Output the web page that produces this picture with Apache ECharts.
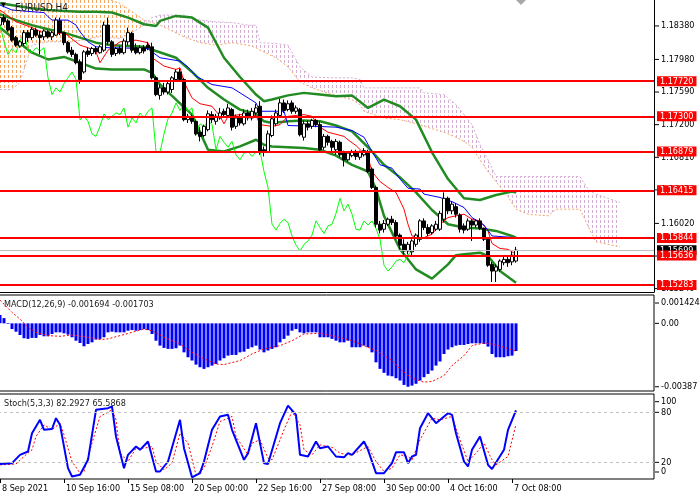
<!DOCTYPE html>
<html>
<head>
<meta charset="utf-8">
<title>EURUSD,H4</title>
<script src="https://cdn.jsdelivr.net/npm/echarts/dist/echarts.min.js"></script>
<style>
html, body { margin: 0; padding: 0; background: #fff; }
#chart { width: 700px; height: 500px; }
</style>
</head>
<body>
<div id="chart"></div>
<script>
var FONT = '"DejaVu Sans Condensed", "Liberation Sans", sans-serif';

// H4 bars, 8 Sep 00:00 .. 7 Oct 12:00 : [open, close, low, high]
var ohlc = [
  [1.1839,1.1848,1.1837,1.1851],[1.1848,1.1843,1.1839,1.1852],[1.1844,1.1833,1.1831,1.1846],[1.1836,1.1821,1.1819,1.1838],
  [1.1824,1.1815,1.1813,1.1826],[1.1814,1.1819,1.1812,1.1821],[1.1817,1.1830,1.1814,1.1833],[1.1830,1.1824,1.1819,1.1833],
  [1.1824,1.1834,1.1821,1.1837],[1.1833,1.1827,1.1825,1.1836],[1.1827,1.1824,1.1804,1.1832],[1.1825,1.1832,1.1821,1.1834],
  [1.1831,1.1825,1.1823,1.1833],[1.1825,1.1830,1.1821,1.1832],[1.1827,1.1845,1.1826,1.1848],[1.1844,1.1830,1.1827,1.1848],
  [1.1830,1.1818,1.1815,1.1831],[1.1818,1.1807,1.1805,1.1820],[1.1809,1.1804,1.1801,1.1813],[1.1804,1.1794,1.1792,1.1806],
  [1.1795,1.1774,1.1769,1.1798],[1.1783,1.1807,1.1781,1.1809],[1.1808,1.1804,1.1801,1.1812],[1.1805,1.1811,1.1802,1.1813],
  [1.1811,1.1807,1.1804,1.1814],[1.1806,1.1813,1.1805,1.1815],[1.1809,1.1839,1.1807,1.1843],[1.1839,1.1819,1.1815,1.1848],
  [1.1819,1.1804,1.1801,1.1821],[1.1805,1.1811,1.1802,1.1813],[1.1811,1.1806,1.1804,1.1814],[1.1806,1.1820,1.1804,1.1823],
  [1.1819,1.1830,1.1815,1.1836],[1.1829,1.1809,1.1806,1.1831],[1.1812,1.1806,1.1804,1.1817],[1.1806,1.1812,1.1804,1.1815],
  [1.1812,1.1808,1.1805,1.1815],[1.1815,1.1812,1.1809,1.1819],[1.1813,1.1776,1.1774,1.1818],[1.1776,1.1756,1.1754,1.1778],
  [1.1755,1.1764,1.1750,1.1768],[1.1764,1.1759,1.1756,1.1770],[1.1759,1.1769,1.1756,1.1771],[1.1762,1.1776,1.1758,1.1778],
  [1.1774,1.1783,1.1771,1.1786],[1.1783,1.1774,1.1771,1.1787],[1.1774,1.1726,1.1724,1.1776],[1.1726,1.1730,1.1722,1.1733],
  [1.1730,1.1724,1.1721,1.1732],[1.1724,1.1709,1.1707,1.1726],[1.1711,1.1706,1.1700,1.1717],[1.1707,1.1718,1.1705,1.1720],
  [1.1714,1.1733,1.1712,1.1737],[1.1732,1.1726,1.1722,1.1736],[1.1724,1.1730,1.1720,1.1733],[1.1728,1.1734,1.1726,1.1740],
  [1.1736,1.1732,1.1728,1.1739],[1.1731,1.1740,1.1728,1.1745],[1.1738,1.1717,1.1713,1.1740],[1.1718,1.1728,1.1715,1.1732],
  [1.1728,1.1722,1.1719,1.1733],[1.1721,1.1734,1.1719,1.1738],[1.1734,1.1728,1.1725,1.1738],[1.1728,1.1736,1.1725,1.1740],
  [1.1734,1.1740,1.1731,1.1745],[1.1742,1.1688,1.1684,1.1748],[1.1690,1.1687,1.1682,1.1694],[1.1688,1.1709,1.1686,1.1713],
  [1.1707,1.1727,1.1705,1.1731],[1.1721,1.1734,1.1718,1.1738],[1.1731,1.1746,1.1728,1.1751],[1.1746,1.1737,1.1734,1.1750],
  [1.1738,1.1745,1.1736,1.1749],[1.1746,1.1736,1.1733,1.1749],[1.1736,1.1740,1.1733,1.1743],[1.1738,1.1708,1.1706,1.1740],
  [1.1705,1.1721,1.1701,1.1725],[1.1721,1.1717,1.1713,1.1725],[1.1718,1.1725,1.1715,1.1727],[1.1725,1.1720,1.1717,1.1727],
  [1.1720,1.1690,1.1687,1.1724],[1.1693,1.1706,1.1690,1.1709],[1.1706,1.1699,1.1695,1.1708],[1.1700,1.1693,1.1688,1.1702],
  [1.1690,1.1700,1.1684,1.1703],[1.1699,1.1684,1.1681,1.1701],[1.1686,1.1678,1.1670,1.1689],[1.1678,1.1686,1.1676,1.1688],
  [1.1683,1.1688,1.1681,1.1690],[1.1688,1.1682,1.1678,1.1690],[1.1681,1.1687,1.1678,1.1689],[1.1684,1.1689,1.1682,1.1692],
  [1.1688,1.1664,1.1662,1.1690],[1.1667,1.1645,1.1643,1.1669],[1.1645,1.1601,1.1597,1.1647],[1.1601,1.1594,1.1590,1.1605],
  [1.1595,1.1602,1.1591,1.1606],[1.1601,1.1607,1.1599,1.1609],[1.1607,1.1603,1.1600,1.1611],[1.1603,1.1587,1.1583,1.1606],
  [1.1588,1.1576,1.1571,1.1590],[1.1577,1.1569,1.1565,1.1583],[1.1569,1.1577,1.1565,1.1580],[1.1568,1.1581,1.1564,1.1583],
  [1.1577,1.1588,1.1574,1.1590],[1.1583,1.1605,1.1580,1.1607],[1.1605,1.1597,1.1594,1.1608],[1.1597,1.1590,1.1587,1.1601],
  [1.1591,1.1599,1.1589,1.1601],[1.1595,1.1601,1.1593,1.1605],[1.1595,1.1614,1.1593,1.1617],[1.1607,1.1632,1.1603,1.1639],
  [1.1632,1.1617,1.1613,1.1634],[1.1617,1.1625,1.1613,1.1628],[1.1622,1.1613,1.1609,1.1626],[1.1612,1.1595,1.1591,1.1614],
  [1.1599,1.1594,1.1590,1.1602],[1.1595,1.1605,1.1593,1.1608],[1.1605,1.1600,1.1581,1.1607],[1.1600,1.1605,1.1597,1.1607],
  [1.1605,1.1596,1.1594,1.1608],[1.1596,1.1583,1.1581,1.1597],[1.1583,1.1552,1.1550,1.1585],[1.1553,1.1545,1.1532,1.1556],
  [1.1545,1.1550,1.1532,1.1553],[1.1547,1.1557,1.1544,1.1559],[1.1555,1.1559,1.1552,1.1562],[1.1559,1.1555,1.1550,1.1563],
  [1.1556,1.1564,1.1552,1.1568],[1.1557,1.1570,1.1555,1.1574]
];

// Bollinger bands [bar, price]
var bbUpper = [[0,1.1865],[4,1.1862],[8,1.1859],[12,1.1857],[16,1.1856],[20,1.1855],[24,1.1855],[28,1.1854],[32,1.1848],[36,1.1840],[39,1.1838],[40,1.1844],[44,1.1850],[48,1.1848],[52,1.1836],[56,1.1800],[60,1.1777],[64,1.1756],[66,1.1748],[68,1.1750],[72,1.1755],[76,1.1758],[80,1.1756],[84,1.1754],[88,1.1755],[92,1.1740],[96,1.1750],[100,1.1742],[104,1.1726],[108,1.1687],[112,1.1655],[116,1.1632],[120,1.1630],[124,1.1636],[128,1.1640],[129,1.1639]];
var bbMiddle = [[0,1.1852],[4,1.1845],[8,1.1839],[12,1.1834],[16,1.1830],[20,1.1824],[24,1.1818],[28,1.1815],[32,1.1814],[36,1.1813],[39,1.1808],[44,1.1800],[48,1.1783],[52,1.1764],[56,1.1750],[60,1.1738],[64,1.1733],[66,1.1724],[68,1.1722],[72,1.1724],[76,1.1725],[80,1.1724],[84,1.1719],[88,1.1712],[92,1.1693],[96,1.1672],[100,1.1657],[104,1.1639],[108,1.1618],[112,1.1601],[116,1.1597],[120,1.1596],[124,1.1593],[128,1.1587],[129,1.1585]];
var bbLower = [[0,1.1836],[4,1.1821],[8,1.1806],[12,1.1798],[16,1.1801],[20,1.1794],[24,1.1787],[28,1.1786],[32,1.1786],[36,1.1786],[38,1.1782],[40,1.1768],[44,1.1750],[48,1.1732],[52,1.1690],[56,1.1688],[60,1.1694],[64,1.1702],[66,1.1696],[68,1.1694],[72,1.1693],[76,1.1692],[80,1.1690],[84,1.1683],[88,1.1672],[92,1.1664],[94,1.1643],[96,1.1611],[100,1.1571],[104,1.1547],[108,1.1536],[112,1.1553],[114,1.1564],[116,1.1565],[120,1.1567],[122,1.1563],[125,1.1545],[129,1.1531]];

// Ichimoku
var tenkan = [[0,1.1857],[4,1.1843],[8,1.1836],[12,1.1827],[16,1.1830],[20,1.1815],[22,1.1812],[24,1.1807],[25,1.1794],[27,1.1809],[30,1.1819],[34,1.1821],[37,1.1818],[38,1.1800],[41,1.1790],[44,1.1786],[45,1.1788],[46,1.1771],[48,1.1752],[50,1.1745],[53,1.1742],[55,1.1730],[56,1.1721],[57,1.1730],[60,1.1732],[64,1.1731],[65,1.1720],[68,1.1718],[70,1.1720],[72,1.1730],[76,1.1732],[78,1.1730],[80,1.1717],[82,1.1711],[86,1.1706],[87,1.1702],[89,1.1695],[92,1.1681],[93,1.1664],[95,1.1652],[97,1.1645],[99,1.1639],[101,1.1619],[102,1.1601],[103,1.1587],[106,1.1585],[108,1.1589],[110,1.1601],[112,1.1609],[116,1.1613],[118,1.1607],[120,1.1605],[122,1.1593],[123,1.1578],[125,1.1572],[127,1.1571],[129,1.1565]];
var kijun = [[0,1.1863],[3,1.1857],[8,1.1855],[11,1.1854],[12,1.1849],[13,1.1845],[17,1.1845],[19,1.1839],[20,1.1831],[22,1.1819],[24,1.1813],[27,1.1812],[37,1.1811],[38,1.1807],[40,1.1800],[45,1.1796],[47,1.1789],[49,1.1778],[53,1.1768],[58,1.1764],[61,1.1755],[64,1.1746],[65,1.1736],[71,1.1736],[72,1.1719],[79,1.1718],[84,1.1717],[88,1.1713],[91,1.1705],[93,1.1688],[95,1.1672],[98,1.1668],[100,1.1655],[102,1.1644],[105,1.1643],[106,1.1637],[110,1.1633],[113,1.1628],[116,1.1621],[118,1.1609],[121,1.1600],[123,1.1587],[129,1.1585]];
var chikouShift = 26;
var cloudIdx = [0,3,5,6,8,12,18,25,30,33,36,38,40,46,50,54,58,62,64,65,69,72,75,78,83,88,90,91,96,100,105,106,111,114,116,118,120,122,124,127,129,132,137,139,145,147,148,149,152,155];
var senkouA = [1.1855,1.1857,1.1862,1.1879,1.1879,1.1879,1.1879,1.1873,1.1865,1.1855,1.1845,1.1842,1.1839,1.1825,1.1818,1.1815,1.1818,1.1815,1.1812,1.1809,1.1800,1.1789,1.1771,1.1764,1.1756,1.1750,1.1744,1.1736,1.1728,1.1726,1.1720,1.1718,1.1711,1.1705,1.1700,1.1693,1.1678,1.1664,1.1652,1.1634,1.1619,1.1613,1.1611,1.1619,1.1619,1.1599,1.1589,1.1580,1.1577,1.1574];
var senkouB = [1.1762,1.1762,1.1771,1.1786,1.1815,1.1819,1.1819,1.1825,1.1823,1.1830,1.1839,1.1848,1.1851,1.1851,1.1845,1.1843,1.1842,1.1839,1.1839,1.1818,1.1817,1.1815,1.1789,1.1777,1.1776,1.1776,1.1774,1.1764,1.1764,1.1764,1.1764,1.1758,1.1756,1.1744,1.1732,1.1720,1.1696,1.1678,1.1658,1.1658,1.1658,1.1658,1.1658,1.1658,1.1658,1.1643,1.1639,1.1637,1.1632,1.1627];

// levels and price scale
var levels = [1.17720, 1.17300, 1.16879, 1.16415, 1.15844, 1.15636, 1.15283];
var lastPrice = 1.15699;
var priceTicks = [1.18380, 1.17980, 1.17590, 1.17200, 1.16810, 1.16420, 1.16020, 1.15630, 1.15240];

// MACD(12,26,9)
var macdMain = [
  0.00051,0.00032,-0.00004,-0.00035,-0.00051,-0.00071,-0.00091,-0.00095,-0.00089,-0.00089,
  -0.00071,-0.00079,-0.00079,-0.00065,-0.00055,-0.00055,-0.00061,-0.00069,-0.00085,-0.00106,
  -0.00120,-0.00140,-0.00126,-0.00116,-0.00099,-0.00095,-0.00085,-0.00055,-0.00051,-0.00055,
  -0.00055,-0.00055,-0.00045,-0.00041,-0.00045,-0.00041,-0.00035,-0.00041,-0.00065,-0.00106,
  -0.00136,-0.00150,-0.00156,-0.00156,-0.00152,-0.00136,-0.00177,-0.00207,-0.00227,-0.00252,
  -0.00268,-0.00278,-0.00268,-0.00258,-0.00248,-0.00227,-0.00213,-0.00197,-0.00193,-0.00193,
  -0.00177,-0.00173,-0.00156,-0.00146,-0.00136,-0.00160,-0.00177,-0.00166,-0.00156,-0.00146,
  -0.00116,-0.00095,-0.00075,-0.00045,-0.00035,-0.00055,-0.00061,-0.00055,-0.00055,-0.00055,
  -0.00085,-0.00085,-0.00085,-0.00095,-0.00106,-0.00116,-0.00116,-0.00106,-0.00146,-0.00146,
  -0.00146,-0.00136,-0.00146,-0.00177,-0.00238,-0.00278,-0.00302,-0.00319,-0.00323,-0.00335,
  -0.00349,-0.00376,-0.00387,-0.00380,-0.00369,-0.00349,-0.00329,-0.00309,-0.00288,-0.00258,
  -0.00233,-0.00187,-0.00160,-0.00146,-0.00136,-0.00132,-0.00132,-0.00126,-0.00122,-0.00122,
  -0.00122,-0.00126,-0.00142,-0.00187,-0.00207,-0.00207,-0.00207,-0.00201,-0.00197,-0.00169
];
var macdSignal = [[0,0.00142],[3,0.00067],[5,0.00026],[7,-0.00024],[9,-0.00055],[12,-0.00075],[15,-0.00079],[18,-0.00071],[22,-0.00085],[25,-0.00099],[27,-0.00095],[30,-0.00075],[33,-0.00055],[36,-0.00035],[38,-0.00045],[41,-0.00085],[45,-0.00126],[48,-0.00177],[51,-0.00217],[54,-0.00248],[56,-0.00252],[60,-0.00227],[63,-0.00187],[66,-0.00156],[70,-0.00136],[73,-0.00106],[76,-0.00065],[80,-0.00061],[83,-0.00075],[87,-0.00099],[88,-0.00106],[91,-0.00136],[94,-0.00166],[98,-0.00227],[100,-0.00278],[103,-0.00335],[106,-0.00359],[108,-0.00355],[111,-0.00319],[113,-0.00258],[116,-0.00197],[118,-0.00136],[121,-0.00120],[123,-0.00126],[126,-0.00146],[129,-0.00170]];
var macdTicks = [0.001424, 0, -0.00387];
var macdTickText = ['0.001424', '0.00', '-0.00387'];

// Stochastic(5,3,3)
var stochMain = [[0,18],[3,19],[5,29],[7,33],[8,55],[10,71],[11,59],[13,60],[14,73],[15,65],[17,13],[18,3],[20,5],[22,23],[24,83],[27,85],[28,87],[29,51],[31,13],[32,29],[34,39],[35,35],[37,45],[39,9],[40,9],[42,21],[45,71],[46,37],[48,2],[50,7],[51,21],[53,59],[55,75],[57,77],[58,59],[61,23],[62,31],[64,67],[66,19],[67,18],[70,67],[72,88],[74,77],[75,29],[77,27],[79,45],[80,37],[82,39],[84,27],[86,26],[87,31],[88,29],[91,45],[92,35],[94,7],[96,7],[98,19],[99,32],[101,32],[102,19],[103,27],[104,29],[105,61],[107,79],[109,67],[112,79],[113,77],[114,55],[116,21],[117,15],[118,35],[120,51],[122,17],[123,12],[126,35],[127,59],[129,82.29]];
var stochSignal = [[0,17],[4,18],[6,27],[8,35],[9,51],[11,65],[13,59],[15,67],[16,53],[18,21],[20,7],[21,9],[23,43],[25,75],[28,83],[29,71],[30,31],[32,21],[34,37],[36,37],[38,39],[39,21],[41,11],[43,19],[45,55],[47,43],[49,5],[51,13],[53,39],[55,69],[58,75],[59,51],[62,29],[63,43],[65,47],[67,25],[68,23],[71,59],[73,81],[75,65],[76,35],[78,29],[80,41],[83,38],[85,31],[87,29],[88,29],[92,39],[94,21],[96,9],[98,13],[100,29],[102,27],[103,23],[105,47],[108,73],[110,71],[113,75],[115,47],[117,21],[119,31],[121,43],[123,23],[124,17],[127,27],[129,65.59]];
var stochTicks = [100, 80, 20, 0];

var timeLabels = ['8 Sep 2021', '10 Sep 16:00', '15 Sep 08:00', '20 Sep 00:00', '22 Sep 16:00', '27 Sep 08:00', '30 Sep 00:00', '4 Oct 16:00', '7 Oct 08:00'];
var barsPerLabel = 16;
var slotCount = 164;

var slots = [];
for (var s = 0; s < slotCount; s++) slots.push(String(s));

var chikou = ohlc.slice(chikouShift).map(function (b, i) { return [i, b[1]]; });

function hatch(color) {
  var c = document.createElement('canvas');
  c.width = 4; c.height = 5;
  var g = c.getContext('2d');
  g.fillStyle = color;
  g.fillRect(0, 0, 1, 3);
  return { image: c, repeat: 'repeat' };
}
var orangeHatch = hatch('#f4a460');
var plumHatch = hatch('#d3aed3');

var chart = echarts.init(document.getElementById('chart'), null, { renderer: 'canvas' });

var NOLINE = { color: 'rgba(0,0,0,0)', width: 1 };
var FRAME = { show: true, lineStyle: { color: '#000', width: 1 } };

// axis label with a short tick mark drawn in front of it
function tickLabel(text, offset) {
  var l = {
    show: true, position: 'end', distance: 1, color: '#000', fontSize: 9, fontFamily: FONT,
    formatter: '{t|}{v|' + text + '}',
    rich: {
      t: { width: 4, height: 1, backgroundColor: '#000', verticalAlign: 'middle' },
      v: { color: '#000', fontSize: 9, fontFamily: FONT, padding: [0, 0, 0, 2] }
    }
  };
  if (offset) l.offset = offset;
  return l;
}

function boxLabel(text, bg) {
  return {
    show: true, position: 'end', distance: 3, formatter: text, color: '#fff',
    backgroundColor: bg, padding: [1, 3, 0, 3], fontSize: 9, fontFamily: FONT
  };
}

function lineSeries(name, data, color, width, z, type) {
  return {
    name: name, type: 'line', data: data, xAxisIndex: 0, yAxisIndex: 0,
    symbol: 'none', z: z, silent: true,
    lineStyle: { color: color, width: width, type: type || 'solid' }
  };
}

var upperSeries = lineSeries('BB upper', bbUpper, '#228b22', 2.5, 2);
upperSeries.markLine = {
  silent: true, symbol: 'none', z: 5, animation: false, precision: 6,
  data: priceTicks.map(function (v) {
    return { yAxis: v, lineStyle: NOLINE, label: tickLabel(v.toFixed(5)) };
  })
};

var levelSeries = {
  name: 'levels', type: 'line', data: [], xAxisIndex: 0, yAxisIndex: 0, symbol: 'none', z: 6,
  markLine: {
    silent: true, symbol: 'none', z: 7, animation: false, precision: 6,
    data: [{
      yAxis: lastPrice,
      lineStyle: { color: '#c0c0c0', width: 1, type: 'solid' },
      label: boxLabel(lastPrice.toFixed(5), '#000')
    }].concat(levels.map(function (v) {
      return { yAxis: v, lineStyle: { color: '#ff0000', width: 2, type: 'solid' }, label: boxLabel(v.toFixed(5), '#ff0000') };
    }))
  }
};

var cloudSeries = {
  name: 'cloud', type: 'custom', xAxisIndex: 0, yAxisIndex: 0, z: 1, silent: true, clip: true,
  data: cloudIdx.map(function (idx, k) { return [idx, senkouA[k], senkouB[k], k]; }),
  encode: { x: 0, y: [1, 2] },
  renderItem: function (params, api) {
    var k = api.value(3);
    if (k >= cloudIdx.length - 1) return null;
    var a0 = api.coord([cloudIdx[k], senkouA[k]]);
    var a1 = api.coord([cloudIdx[k + 1], senkouA[k + 1]]);
    var b0 = api.coord([cloudIdx[k], senkouB[k]]);
    var b1 = api.coord([cloudIdx[k + 1], senkouB[k + 1]]);
    var bull = senkouA[k] + senkouA[k + 1] > senkouB[k] + senkouB[k + 1];
    return {
      type: 'polygon',
      shape: { points: [a0, a1, b1, b0] },
      style: { fill: bull ? orangeHatch : plumHatch, stroke: null }
    };
  }
};

var timeTick = function (i) { return i % barsPerLabel === 0 && i / barsPerLabel < timeLabels.length; };

var option = {
  animation: false,
  backgroundColor: '#fff',
  textStyle: { fontFamily: FONT },
  title: [
    { text: '\u25BC', left: 1, top: 2, padding: 0, textStyle: { fontSize: 7, color: '#000', fontWeight: 'normal' } },
    { text: 'EURUSD,H4', left: 15, top: 3, padding: 0, textStyle: { fontSize: 10, color: '#202020', fontWeight: 'normal', fontFamily: FONT } },
    { text: 'MACD(12,26,9) -0.001694 -0.001703', left: 4, top: 300, padding: 0, textStyle: { fontSize: 9, color: '#202020', fontWeight: 'normal', fontFamily: FONT } },
    { text: 'Stoch(5,3,3) 82.2927 65.5868', left: 4, top: 399, padding: 0, textStyle: { fontSize: 9, color: '#202020', fontWeight: 'normal', fontFamily: FONT } }
  ],
  graphic: [
    { type: 'polygon', shape: { points: [[516, 0], [526, 0], [521, 5]] }, style: { fill: '#a8a8a8' }, z: 10 }
  ],
  grid: [
    { left: -2, width: 656, top: 0, height: 292, show: false, outerBoundsMode: 'none' },
    { left: -2, width: 656, top: 295, height: 96, show: true, borderColor: '#000', borderWidth: 1, backgroundColor: 'transparent', outerBoundsMode: 'none' },
    { left: -2, width: 656, top: 394, height: 85, show: true, borderColor: '#000', borderWidth: 1, backgroundColor: 'transparent', outerBoundsMode: 'none' }
  ],
  xAxis: [
    { type: 'category', gridIndex: 0, data: slots, position: 'bottom', axisLine: FRAME, axisTick: { show: false }, axisLabel: { show: false }, splitLine: { show: false } },
    { type: 'category', gridIndex: 1, data: slots, show: false },
    {
      type: 'category', gridIndex: 2, data: slots,
      axisLine: { show: false },
      axisTick: { show: true, alignWithLabel: true, length: 4, lineStyle: { color: '#000' }, interval: timeTick },
      axisLabel: {
        show: true, align: 'left', margin: 5, color: '#000', fontSize: 9, fontFamily: FONT, padding: [0, 0, 0, 2],
        interval: timeTick,
        formatter: function (v, i) { return timeLabels[i / barsPerLabel] || ''; }
      },
      splitLine: { show: false }
    }
  ],
  yAxis: [
    { type: 'value', gridIndex: 0, min: 1.15200, max: 1.18690, position: 'right', axisLine: FRAME, axisTick: { show: false }, axisLabel: { show: false }, splitLine: { show: false } },
    { type: 'value', gridIndex: 1, min: -0.00413, max: 0.00173, show: false, splitLine: { show: false } },
    { type: 'value', gridIndex: 2, min: 0, max: 102, show: false, splitLine: { show: false } }
  ],
  series: [
    cloudSeries,
    lineSeries('Senkou A', cloudIdx.map(function (idx, k) { return [idx, senkouA[k]]; }), '#f4a460', 1, 1.5, [2, 2]),
    lineSeries('Senkou B', cloudIdx.map(function (idx, k) { return [idx, senkouB[k]]; }), '#d3aed3', 1, 1.5, [2, 2]),
    upperSeries,
    lineSeries('BB middle', bbMiddle, '#228b22', 2.5, 2),
    lineSeries('BB lower', bbLower, '#228b22', 2.5, 2),
    lineSeries('Chikou', chikou, '#00ff00', 1, 3),
    lineSeries('Tenkan', tenkan, '#ff0000', 1, 3),
    lineSeries('Kijun', kijun, '#0000ff', 1, 3),
    {
      name: 'EURUSD', type: 'candlestick', xAxisIndex: 0, yAxisIndex: 0, z: 4, silent: true,
      data: ohlc, barWidth: 3,
      itemStyle: { color: '#ffffff', color0: '#000000', borderColor: '#000000', borderColor0: '#000000', borderWidth: 1 }
    },
    levelSeries,
    {
      name: 'MACD', type: 'bar', xAxisIndex: 1, yAxisIndex: 1, data: macdMain, barWidth: 3, silent: true,
      itemStyle: { color: '#0000ff' },
      markLine: {
        silent: true, symbol: 'none', animation: false, precision: 8,
        data: macdTicks.map(function (v, k) {
          return { yAxis: v, lineStyle: NOLINE, label: tickLabel(macdTickText[k], k === 0 ? [0, 3] : null) };
        })
      }
    },
    {
      name: 'Signal', type: 'line', xAxisIndex: 1, yAxisIndex: 1, data: macdSignal, symbol: 'none', silent: true, z: 3,
      lineStyle: { color: '#ff0000', width: 1, type: [2, 2] }
    },
    {
      name: 'Stoch', type: 'line', xAxisIndex: 2, yAxisIndex: 2, data: stochMain, symbol: 'none', silent: true, z: 3,
      lineStyle: { color: '#0000ff', width: 2 },
      markLine: {
        silent: true, symbol: 'none', animation: false, precision: 2,
        data: stochTicks.map(function (v) {
          var edge = v === 100 || v === 0;
          return {
            yAxis: v,
            lineStyle: edge ? NOLINE : { color: '#c0c0c0', width: 1, type: [3, 3] },
            label: tickLabel(String(v), v === 100 ? [0, 6] : (v === 0 ? [0, -7] : null))
          };
        })
      }
    },
    {
      name: 'Stoch signal', type: 'line', xAxisIndex: 2, yAxisIndex: 2, data: stochSignal, symbol: 'none', silent: true, z: 2,
      lineStyle: { color: '#ff0000', width: 1, type: [2, 2] }
    }
  ]
};

chart.setOption(option);
</script>
</body>
</html>
